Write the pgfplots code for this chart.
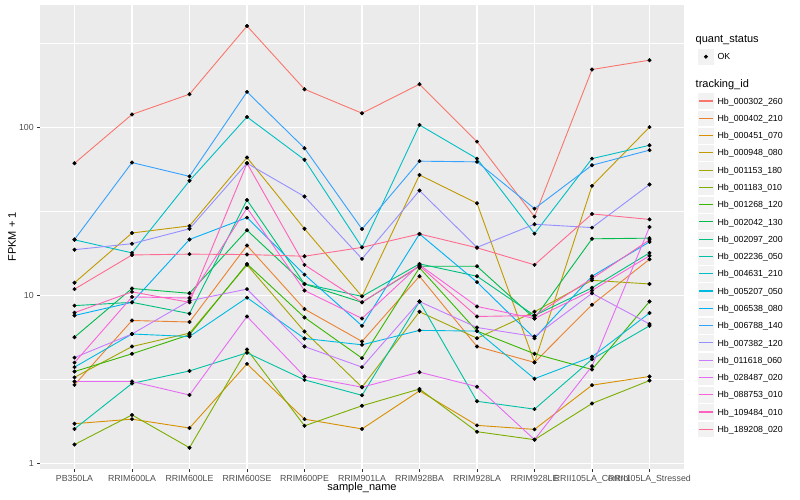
\documentclass[border=0pt]{standalone}
\usepackage{pgfplots}
\pgfplotsset{compat=1.18}
\usepackage{pgfplotstable}
\usepackage{fontspec}
\setmainfont{Liberation Sans}

\definecolor{panelbg}{HTML}{EBEBEB}
\definecolor{keybg}{HTML}{F2F2F2}
\definecolor{tickgray}{HTML}{4D4D4D}
\definecolor{tickline}{HTML}{333333}
\definecolor{c1}{HTML}{F8766D}
\definecolor{c2}{HTML}{EA8331}
\definecolor{c3}{HTML}{D89000}
\definecolor{c4}{HTML}{C09B00}
\definecolor{c5}{HTML}{A3A500}
\definecolor{c6}{HTML}{7CAE00}
\definecolor{c7}{HTML}{39B600}
\definecolor{c8}{HTML}{00BB4E}
\definecolor{c9}{HTML}{00BF7D}
\definecolor{c10}{HTML}{00C1A3}
\definecolor{c11}{HTML}{00BFC4}
\definecolor{c12}{HTML}{00BAE0}
\definecolor{c13}{HTML}{00B0F6}
\definecolor{c14}{HTML}{35A2FF}
\definecolor{c15}{HTML}{9590FF}
\definecolor{c16}{HTML}{C77CFF}
\definecolor{c17}{HTML}{E76BF3}
\definecolor{c18}{HTML}{FA62DB}
\definecolor{c19}{HTML}{FF62BC}
\definecolor{c20}{HTML}{FF6C91}

% FPKM + 1, one column per tracking_id, one row per sample
\pgfplotstableread{
idx s1 s2 s3 s4 s5 s6 s7 s8 s9 s10 s11 s12 s13 s14 s15 s16 s17 s18 s19 s20
0 61 2.94 1.73 11.9 3.26 1.30 3.53 5.65 8.7 1.61 21.4 3.75 7.6 21.5 18.7 4.27 3.08 3.99 7.9 10.9
1 119 7.1 1.84 23.5 4.97 1.95 4.5 11.0 9.1 3.0 17.9 5.9 9.1 61.6 20.3 5.9 3.08 9.8 10.5 17.4
2 157 6.95 1.63 25.9 5.97 1.245 5.84 10.3 7.8 3.56 48 5.7 21.5 51 24.9 9.3 2.56 9.65 9.1 17.6
3 399 19.8 3.92 66 15.2 4.77 15.4 24.4 36.9 4.56 115 9.7 29 162 61 10.9 7.5 33.1 61 17.5
4 168 8.3 1.84 24.9 6.1 1.68 7.4 11.7 11.7 3.15 64 5.55 13.3 75 38.7 4.97 3.3 10.7 15.2 17.1
5 121 5.33 1.61 9.87 2.85 2.21 4.24 9.1 9.87 2.55 19.3 5.09 6.6 24.8 16.5 3.75 2.85 7.3 9.1 19.3
6 180 13.0 2.71 52 8.0 2.78 14.6 14.9 15.4 9.2 103 6.2 23.2 62.8 42 9.2 3.5 15.2 15.0 23.2
7 82 4.97 1.69 35.3 5.57 1.55 6.14 14.9 13.0 2.35 65 6.14 12.0 62.2 19.3 6.45 2.87 8.6 7.5 19.2
8 29.4 4.0 1.6 4.0 8.0 1.39 4.5 7.3 7.6 2.11 23.3 3.2 5.57 32.8 26.5 5.7 1.39 7.3 7.6 15.2
9 220 8.8 2.93 44.8 12.3 2.28 3.63 21.7 11.1 4.18 65 4.32 13.0 59.4 25.3 10.3 3.8 10.7 12.6 30.5
10 250 16.4 3.3 100 11.7 3.12 9.2 21.9 17.9 6.6 78 7.86 20.8 73 45.6 6.77 25.5 17.2 21.4 28.3
}\fpkm

\begin{document}
\begin{tikzpicture}
\useasboundingbox (0,0) rectangle (800pt,500pt);
\begin{axis}[
  scale only axis, width=644pt, height=463.8pt,
  at={(40pt,31.2pt)}, anchor=south west,
  xmin=-0.6, xmax=10.6, ymode=log, ymin=0.933, ymax=532,
  axis background/.style={fill=panelbg},
  axis lines*=left, axis line style={draw=none},
  tick align=outside, major tick length=2.75pt, minor tick length=0pt,
  tick style={tickline, line width=0.5pt},
  xtick={0,...,10},
  xticklabels={PB350LA, RRIM600LA, RRIM600LE, RRIM600SE, RRIM600PE, RRIM901LA,
    RRIM928BA, RRIM928LA, RRIM928LE, RRII105LA\_Control, RRII105LA\_Stressed},
  ytick={1,10,100}, yticklabels={1,10,100},
  minor ytick={3.1623,31.623,316.23},
  grid=both,
  major grid style={white, line width=1.07pt},
  minor grid style={white, line width=0.53pt},
  ticklabel style={font=\fontsize{8.8}{10}\selectfont, text=tickgray},
  xlabel={sample\_name}, ylabel={FPKM + 1},
  label style={font=\fontsize{11}{13}\selectfont, text=black},
  xlabel style={at={(axis description cs:0.5,-0.041)}, anchor=center},
  ylabel style={at={(axis description cs:-0.0435,0.5)}, anchor=center},
  legend cell align=left,
  legend style={at={(axis description cs:1.0207,0.8117)}, anchor=north west,
    draw=none, fill=none, inner sep=0pt, outer sep=0pt,
    row sep=0pt, column sep=3pt,
    nodes={inner sep=0pt, outer sep=0pt, text depth=0pt,
      font=\fontsize{8.8}{10}\selectfont}},
  legend image code/.code={
    \fill[keybg, draw=white, line width=0.6pt] (0.3pt,-8.34pt) rectangle (16.98pt,8.34pt);
    \draw[line width=1.1pt] (1.7pt,0pt) -- (15.6pt,0pt);
  },
]
\pgfplotsinvokeforeach{1,...,20}{
  \addplot[color=c#1, line width=0.9pt] table[x=idx, y=s#1] {\fpkm};
}
\legend{Hb\_000302\_260, Hb\_000402\_210, Hb\_000451\_070, Hb\_000948\_080,
    Hb\_001153\_180, Hb\_001183\_010, Hb\_001268\_120, Hb\_002042\_130,
    Hb\_002097\_200, Hb\_002236\_050, Hb\_004631\_210, Hb\_005207\_050,
    Hb\_006538\_080, Hb\_006788\_140, Hb\_007382\_120, Hb\_011618\_060,
    Hb\_028487\_020, Hb\_088753\_010, Hb\_109484\_010, Hb\_189208\_020}
\end{axis}
\begin{axis}[
  scale only axis, width=644pt, height=463.8pt,
  at={(40pt,31.2pt)}, anchor=south west,
  xmin=-0.6, xmax=10.6, ymode=log, ymin=0.933, ymax=532,
  hide axis,
  legend cell align=left,
  legend style={at={(axis description cs:1.0207,0.9072)}, anchor=north west,
    draw=none, fill=none, inner sep=0pt, outer sep=0pt,
    row sep=0pt, column sep=3pt,
    nodes={inner sep=0pt, outer sep=0pt, text depth=0pt,
      font=\fontsize{8.8}{10}\selectfont}},
  legend image code/.code={
    \fill[keybg, draw=white, line width=0.6pt] (0.3pt,-8.34pt) rectangle (16.98pt,8.34pt);
    \fill[black] (8.64pt,0pt) circle (1.8pt);
  },
]
\pgfplotsinvokeforeach{1,...,20}{
  \addplot[only marks, mark=*, mark size=1.8pt, black] table[x=idx, y=s#1] {\fpkm};
}
\legend{OK}
\end{axis}
\node[anchor=west, inner sep=0pt, font=\fontsize{11}{13}\selectfont] at (695.5pt,460pt) {quant\_status};
\node[anchor=west, inner sep=0pt, font=\fontsize{11}{13}\selectfont] at (695.5pt,415.7pt) {tracking\_id};
\end{tikzpicture}
\end{document}
